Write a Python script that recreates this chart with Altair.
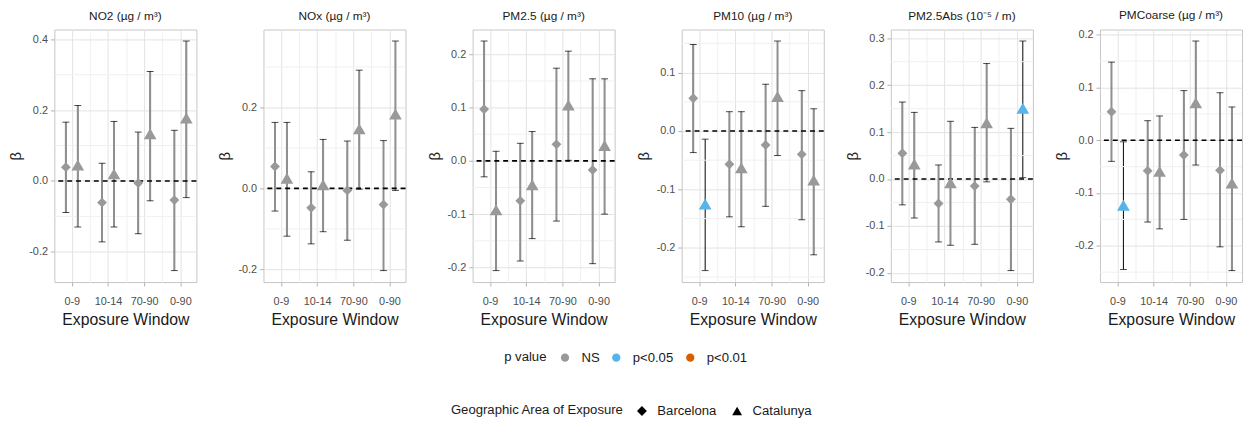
import math
import altair as alt
import pandas as pd

# ---------------- data ----------------
windows = ["0-9", "10-14", "70-90", "0-90"]
areas = ["Barcelona", "Catalunya"]
pollutants = ["NO2", "NOx", "PM2.5", "PM10", "PM2.5Abs", "PMCoarse"]
panel_titles = ["NO2 (µg / m³)", "NOx (µg / m³)", "PM2.5 (µg / m³)",
                "PM10 (µg / m³)", "PM2.5Abs (10⁻⁵ / m)", "PMCoarse (µg / m³)"]
p_levels = ["NS", "p<0.05", "p<0.01"]
p_colors = ["#999999", "#56B4E9", "#D55E00"]

beta_bcn = {
    "NO2":      [0.039, -0.061, -0.006, -0.054],
    "NOx":      [0.054, -0.048, -0.005, -0.040],
    "PM2.5":    [0.097, -0.075, 0.031, -0.017],
    "PM10":     [0.056, -0.057, -0.024, -0.040],
    "PM2.5Abs": [0.055, -0.052, -0.015, -0.043],
    "PMCoarse": [0.054, -0.058, -0.028, -0.057],
}
lo_bcn = {
    "NO2":      [-0.089, -0.172, -0.149, -0.253],
    "NOx":      [-0.056, -0.137, -0.128, -0.203],
    "PM2.5":    [-0.030, -0.188, -0.113, -0.193],
    "PM10":     [-0.037, -0.147, -0.129, -0.152],
    "PM2.5Abs": [-0.055, -0.134, -0.139, -0.195],
    "PMCoarse": [-0.040, -0.155, -0.150, -0.202],
}
hi_bcn = {
    "NO2":      [0.166, 0.050, 0.138, 0.143],
    "NOx":      [0.163, 0.041, 0.117, 0.118],
    "PM2.5":    [0.225, 0.033, 0.174, 0.154],
    "PM10":     [0.148, 0.033, 0.080, 0.069],
    "PM2.5Abs": [0.164, 0.030, 0.110, 0.108],
    "PMCoarse": [0.148, 0.037, 0.094, 0.090],
}
beta_cat = {
    "NO2":      [0.045, 0.020, 0.133, 0.178],
    "NOx":      [0.025, 0.009, 0.147, 0.184],
    "PM2.5":    [-0.092, -0.045, 0.105, 0.029],
    "PM10":     [-0.125, -0.063, 0.059, -0.084],
    "PM2.5Abs": [0.032, -0.008, 0.120, 0.151],
    "PMCoarse": [-0.123, -0.059, 0.071, -0.081],
}
lo_cat = {
    "NO2":      [-0.130, -0.130, -0.056, -0.047],
    "NOx":      [-0.118, -0.107, -0.002, -0.005],
    "PM2.5":    [-0.206, -0.146, 0.001, -0.100],
    "PM10":     [-0.239, -0.164, -0.042, -0.212],
    "PM2.5Abs": [-0.083, -0.141, -0.006, 0.003],
    "PMCoarse": [-0.245, -0.168, -0.047, -0.247],
}
hi_cat = {
    "NO2":      [0.213, 0.168, 0.309, 0.395],
    "NOx":      [0.163, 0.121, 0.292, 0.364],
    "PM2.5":    [0.018, 0.055, 0.206, 0.154],
    "PM10":     [-0.014, 0.033, 0.154, 0.038],
    "PM2.5Abs": [0.142, 0.123, 0.246, 0.294],
    "PMCoarse": [-0.003, 0.046, 0.188, 0.063],
}
p_bcn = {k: ["NS", "NS", "NS", "NS"] for k in pollutants}
p_cat = {
    "NO2":      ["NS", "NS", "NS", "NS"],
    "NOx":      ["NS", "NS", "NS", "NS"],
    "PM2.5":    ["NS", "NS", "NS", "NS"],
    "PM10":     ["p<0.05", "NS", "NS", "NS"],
    "PM2.5Abs": ["NS", "NS", "NS", "p<0.05"],
    "PMCoarse": ["p<0.05", "NS", "NS", "NS"],
}
zero_line = [0.0]

# ---------------- layout settings ----------------
major_step = [0.2, 0.2, 0.1, 0.1, 0.1, 0.1]
PANEL_W = 144
PANEL_H = 256
DODGE = 0.165
X_DOMAIN = [0.517, 4.444]
FONT = "Liberation Sans"
MAJOR_GRID = "#e3e3e3"
MINOR_GRID = "#f0f0f0"
LEGEND_FS = 13.3

rows = []
for pol in pollutants:
    for area, B, L, H, P in [("Barcelona", beta_bcn, lo_bcn, hi_bcn, p_bcn),
                             ("Catalunya", beta_cat, lo_cat, hi_cat, p_cat)]:
        for wi, w in enumerate(windows):
            rows.append(dict(pollutant=pol, area=area, window=w, widx=wi + 1,
                             beta=B[pol][wi], lo=L[pol][wi], hi=H[pol][wi],
                             p=P[pol][wi]))
df = pd.DataFrame(rows)

win_js = "[" + ",".join("'%s'" % w for w in windows) + "]"
x_label_expr = f"datum.value % 1 == 0 ? {win_js}[datum.value - 1] : ''"

color_scale = alt.Scale(domain=p_levels, range=p_colors)
shape_scale = alt.Scale(domain=areas, range=["diamond", "triangle-up"])

# legend positions are relative to the first panel's plot area
color_legend = alt.Legend(
    orient="none", legendX=456, legendY=326, direction="horizontal",
    titleOrient="left", title="p value", symbolType="circle", symbolSize=70,
    symbolStrokeWidth=0, symbolOpacity=1, labelFontSize=LEGEND_FS,
    titleFontSize=LEGEND_FS, titleFontWeight="normal", titleColor="#1a1a1a",
    labelColor="#1a1a1a", columnPadding=10, labelOffset=10, titlePadding=12,
    titleBaseline="middle",
)
shape_legend = alt.Legend(
    orient="none", legendX=402, legendY=380, direction="horizontal",
    titleOrient="left", title="Geographic Area of Exposure", symbolSize=100,
    symbolFillColor="black", symbolStrokeColor="black", symbolStrokeWidth=0,
    symbolOpacity=1, labelFontSize=LEGEND_FS, titleFontSize=LEGEND_FS,
    titleFontWeight="normal", titleColor="#1a1a1a", labelColor="#1a1a1a",
    columnPadding=13.5, labelOffset=9, titlePadding=11, titleBaseline="middle",
)


def panel(i):
    pol = pollutants[i]
    d = df[df.pollutant == pol]
    ymin, ymax = float(d["lo"].min()), float(d["hi"].max())
    r = ymax - ymin
    dom = [ymin - 0.05 * r, ymax + 0.05 * r]
    step = major_step[i]
    half = step / 2
    ks = range(math.ceil(dom[0] / half), math.floor(dom[1] / half) + 1)
    majors = [round(k * half, 4) for k in ks if k % 2 == 0]
    minors = [round(k * half, 4) for k in ks if k % 2 != 0]

    yaxis = alt.Axis(
        values=majors, title="β", titleFontSize=15, titleFontWeight="normal",
        titleColor="#1a1a1a", titlePadding=5, labelFontSize=11,
        labelColor="#4d4d4d", labelPadding=3, tickSize=4, tickColor="#b3b3b3",
        gridColor=MAJOR_GRID, domain=False, labelFlush=False, labelOverlap=False,
        labelExpr="replace(format(datum.value, '.1f'), '\u2212', '-')",
    )
    xaxis = alt.Axis(
        values=[1, 1.5, 2, 2.5, 3, 3.5, 4], title="Exposure Window",
        titleFontSize=16, titleFontWeight="normal", titleColor="#1a1a1a",
        titlePadding=5, labelFontSize=11, labelColor="#4d4d4d", labelPadding=10,
        labelAngle=0, tickSize=4, tickColor="#b3b3b3",
        tickOpacity={"condition": {"test": "datum.value % 1 == 0", "value": 1}, "value": 0},
        gridColor={"condition": {"test": "datum.value % 1 == 0", "value": MAJOR_GRID},
                   "value": MINOR_GRID},
        domain=False, labelFlush=False, labelOverlap=False, labelExpr=x_label_expr,
    )

    base = alt.Chart(d).transform_calculate(
        xpos=f"datum.widx + (datum.area == 'Barcelona' ? -{DODGE} : {DODGE})"
    )
    X = alt.X("xpos:Q", scale=alt.Scale(domain=X_DOMAIN, nice=False, zero=False), axis=xaxis)
    Y = alt.Y("lo:Q", scale=alt.Scale(domain=dom, nice=False, zero=False), axis=yaxis)

    minor_grid = alt.Chart(pd.DataFrame({"g": minors})).mark_rule(
        color=MINOR_GRID, strokeWidth=1).encode(y=alt.Y("g:Q"))
    bar_black = base.mark_rule(color="black", strokeWidth=1).encode(x=X, y=Y, y2="hi:Q")
    bar_gray = base.transform_filter("datum.p == 'NS'").mark_rule(
        color="#8f8f8f", strokeWidth=2).encode(x=X, y=Y, y2="hi:Q")
    cap_lo = base.mark_tick(orient="horizontal", size=7, thickness=1, color="black").encode(
        x=X, y=Y)
    cap_hi = base.mark_tick(orient="horizontal", size=7, thickness=1, color="black").encode(
        x=X, y=alt.Y("hi:Q"))
    zero = alt.Chart(pd.DataFrame({"z": zero_line})).mark_rule(
        color="black", strokeWidth=1.6, strokeDash=[5, 4]).encode(y=alt.Y("z:Q"))

    def pts(area, size):
        return base.transform_filter(f"datum.area == '{area}'").mark_point(
            filled=True, opacity=1, size=size, strokeWidth=0).encode(
            x=X, y=alt.Y("beta:Q"),
            color=alt.Color("p:N", scale=color_scale, legend=color_legend),
            shape=alt.Shape("area:N", scale=shape_scale, legend=shape_legend),
        )

    layer = alt.layer(bar_black, minor_grid, bar_gray, cap_lo, cap_hi, zero,
                      pts("Barcelona", 100), pts("Catalunya", 165)).properties(
        width=PANEL_W, height=PANEL_H,
        title=alt.TitleParams(text=panel_titles[i], fontSize=12, fontWeight="normal",
                              color="#1a1a1a", offset=7, anchor="middle", font=FONT),
    )
    return layer


panels = [panel(i) for i in range(6)]
chart = alt.hconcat(*panels, spacing=19).properties(
    padding={"left": 0, "top": -3, "right": 0, "bottom": 0}
).configure(font=FONT).configure_view(stroke="#c6c6c6", strokeWidth=1)

chart.save("out.html", embed_options={"renderer": "svg", "actions": False})
